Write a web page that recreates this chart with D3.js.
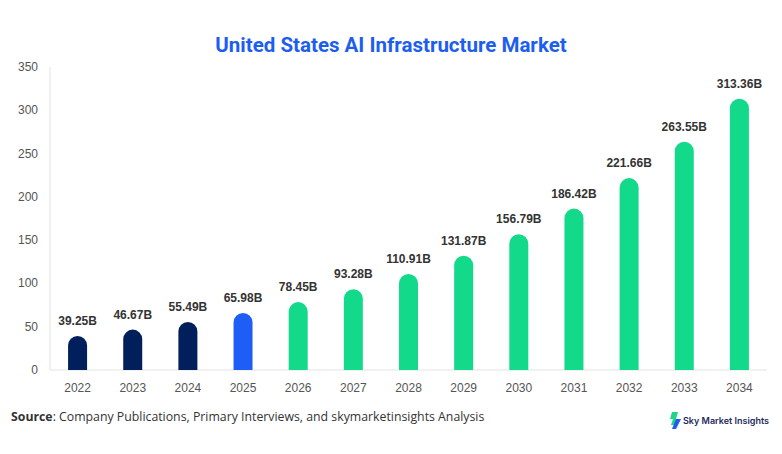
<!DOCTYPE html>
<html><head><meta charset="utf-8">
<script src="https://cdn.jsdelivr.net/npm/d3@7"></script>
<style>body{margin:0;background:#fff}</style>
</head><body><svg id="c" width="782" height="454"></svg>
<script>
const years = ["2022","2023","2024","2025","2026","2027","2028","2029","2030","2031","2032","2033","2034"];
const values = [39.25,46.67,55.49,65.98,78.45,93.28,110.91,131.87,156.79,186.42,221.66,263.55,313.36];
const yTicks = [0,50,100,150,200,250,300,350];

const svg = d3.select("#c");
const padLeft = 50, padRight = 767, padTop = 67, padBottom = 370;
const x = d3.scaleBand().domain(years).range([padLeft, padRight]);
const y = d3.scaleLinear().domain([0, 350]).range([padBottom, padTop]);
const color = i => i < 3 ? "#001f5b" : i === 3 ? "#1e5ef6" : "#13d98b";

svg.append("text").attr("x", 391).attr("y", 52).attr("text-anchor", "middle")
   .attr("font-family", "Roboto, Arial, sans-serif").attr("font-weight", "bold")
   .attr("font-size", 20.5).attr("fill", "#1c5ef0").text("United States AI Infrastructure Market");

svg.append("line").attr("x1", padLeft).attr("x2", padLeft).attr("y1", padTop).attr("y2", padBottom).attr("stroke", "#e3e3e3");
svg.append("line").attr("x1", padLeft).attr("x2", padRight).attr("y1", padBottom).attr("y2", padBottom).attr("stroke", "#e3e3e3");

svg.selectAll(".yt").data(yTicks).enter().append("text")
   .attr("x", 38).attr("y", d => y(d) + 4).attr("text-anchor", "end")
   .attr("font-family", "Arial, sans-serif").attr("font-size", 12).attr("fill", "#555").text(d => d);

svg.selectAll(".xt").data(years).enter().append("text")
   .attr("x", d => x(d) + x.bandwidth() / 2).attr("y", 392).attr("text-anchor", "middle")
   .attr("font-family", "Arial, sans-serif").attr("font-size", 12).attr("fill", "#555").text(d => d);

const bw = 19, r = bw / 2;
svg.selectAll(".bar").data(values).enter().append("path")
   .attr("fill", (d, i) => color(i))
   .attr("d", (d, i) => {
     const cx = x(years[i]) + x.bandwidth() / 2, x0 = cx - r, yt = y(d);
     return `M${x0},${padBottom}V${yt + r}A${r},${r} 0 0 1 ${x0 + bw},${yt + r}V${padBottom}Z`;
   });

svg.selectAll(".lbl").data(values).enter().append("text")
   .attr("x", (d, i) => x(years[i]) + x.bandwidth() / 2).attr("y", d => y(d) - 11)
   .attr("text-anchor", "middle").attr("font-family", "Arial, sans-serif")
   .attr("font-weight", "bold").attr("font-size", 12).attr("fill", "#333")
   .text(d => d.toFixed(2) + "B");

const src = svg.append("text").attr("x", 11).attr("y", 421)
   .attr("font-family", "'Open Sans', sans-serif").attr("font-size", 12.3).attr("fill", "#333");
src.append("tspan").attr("font-weight", "bold").text("Source");
src.append("tspan").text(": Company Publications, Primary Interviews, and skymarketinsights Analysis");

svg.append("path").attr("d", "M672,412 L678,412 L676,419 L681,419 L677,425 L671,425 L673,419 L670,419Z").attr("fill", "#1ed68a");
svg.append("path").attr("d", "M676,419 L681,419 L676,429 L672,429Z").attr("fill", "#1e5ef6");
svg.append("text").attr("x", 683).attr("y", 424).attr("font-family", "Inter, sans-serif")
   .attr("font-size", 9).attr("font-weight", 600).attr("fill", "#1b2a5a").text("Sky Market Insights");
</script></body></html>
